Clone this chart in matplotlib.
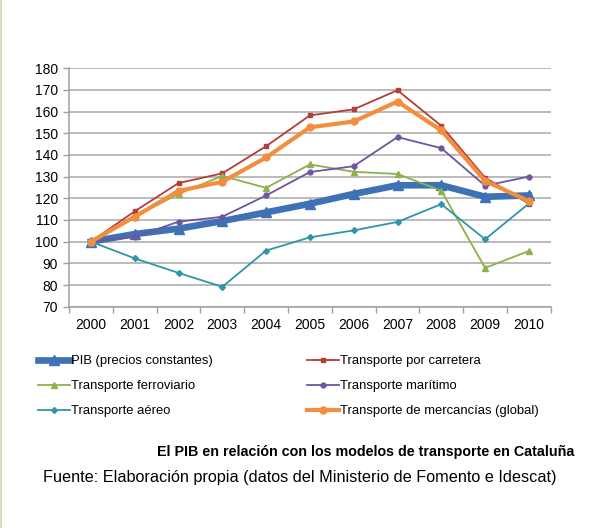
import matplotlib
matplotlib.use('Agg')
import matplotlib.pyplot as plt
from matplotlib.lines import Line2D
import numpy as np

# Data (index 2000 = 100)
years = ['2000', '2001', '2002', '2003', '2004', '2005', '2006', '2007', '2008', '2009', '2010']
pib = [100, 103.5, 106, 109.5, 113.5, 117.5, 122, 126, 126, 120.7, 121.3]
carretera = [100, 114, 127, 131.5, 144, 158.2, 161, 169.8, 153.4, 129.5, 117.5]
ferroviario = [100, 111.5, 122, 130.3, 124.8, 135.6, 132.2, 131.2, 123.5, 87.9, 95.7]
maritimo = [100, 102.2, 109.2, 111.5, 121.3, 132.1, 134.8, 148.2, 143.1, 125.8, 130]
aereo = [100, 92.3, 85.6, 79.2, 95.9, 102, 105.2, 109.1, 117.3, 101.1, 117.6]
mercancias = [100, 111.5, 123.4, 127.6, 138.8, 152.7, 155.4, 164.6, 151.3, 128, 118.7]

labels = ['PIB (precios constantes)', 'Transporte por carretera', 'Transporte ferroviario',
          'Transporte marítimo', 'Transporte aéreo', 'Transporte de mercancías (global)']

sans = ['Liberation Sans', 'DejaVu Sans']

fig = plt.figure(figsize=(6.0, 5.28), dpi=100)
fig.patch.set_facecolor('white')
ax = fig.add_axes([0.115, 0.419, 0.803, 0.452])

x = np.arange(len(years))

# series: values, colour, lw, marker, markersize
series = [
    (pib, '#3F72B5', 4.8, '^', 7.5),
    (carretera, '#B23E3A', 1.3, 's', 3.5),
    (ferroviario, '#8DB14B', 1.3, '^', 4),
    (maritimo, '#6D55A0', 1.3, 'o', 3.5),
    (aereo, '#2F95AA', 1.3, 'D', 3),
    (mercancias, '#F28E3E', 3.0, 'o', 5),
]

handles = []
for (vals, c, lw, m, ms), lab in zip(series, labels):
    ln, = ax.plot(x, vals, color=c, lw=lw, marker=m, markersize=ms,
                  markerfacecolor=c, markeredgecolor=c, label=lab, zorder=3)
    handles.append(ln)

ax.set_xlim(-0.5, 10.5)
ax.set_ylim(70, 180)
ax.set_yticks(np.arange(70, 181, 10))
ax.set_xticks(x)
ax.set_xticklabels(years)
ax.set_xticks(np.arange(-0.5, 10.6, 1), minor=True)
ax.tick_params(axis='x', which='major', length=0, pad=8)
ax.tick_params(axis='x', which='minor', length=4, color='#A0A0A0', width=1)
ax.tick_params(axis='y', which='major', length=4, color='#A0A0A0', width=1, pad=4)
for lab in ax.get_xticklabels() + ax.get_yticklabels():
    lab.set_family(sans)
    lab.set_fontsize(10)
    lab.set_color('black')

ax.grid(axis='y', color='#A8A8A8', lw=1.1, zorder=0)
ax.set_axisbelow(True)
for s in ['top', 'right']:
    ax.spines[s].set_visible(False)
for s in ['left', 'bottom']:
    ax.spines[s].set_color('#A0A0A0')
    ax.spines[s].set_linewidth(1.1)

# legend, row-wise order as in the reference
order = [0, 2, 4, 1, 3, 5]
leg = fig.legend([handles[i] for i in order], [labels[i] for i in order],
                 loc='upper left', bbox_to_anchor=(0.063, 0.327), ncol=2,
                 frameon=False, handlelength=2.45, handletextpad=0.08,
                 columnspacing=7.2, labelspacing=0.97, borderpad=0, borderaxespad=0,
                 prop={'family': sans, 'size': 9.4})

fig.text(0.957, 0.144, 'El PIB en relación con los modelos de transporte en Cataluña',
         ha='right', va='center', fontsize=10.3, fontweight='bold', family=sans)
fig.text(0.072, 0.095, 'Fuente: Elaboración propia (datos del Ministerio de Fomento e Idescat)',
         ha='left', va='center', fontsize=11.7, family=sans)

# thin light border on the left edge
fig.add_artist(Line2D([0.002, 0.002], [0, 1], transform=fig.transFigure,
                      color='#D9DEB4', lw=1.5))

plt.savefig('out.png', dpi=100)
